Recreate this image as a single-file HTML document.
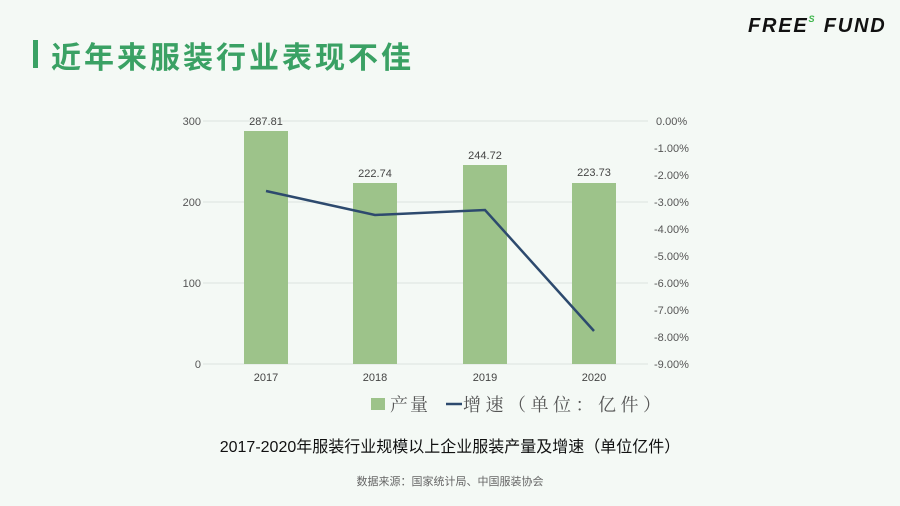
<!DOCTYPE html>
<html><head><meta charset="utf-8"><style>
body{margin:0;width:900px;height:506px;background:#f4f9f5;overflow:hidden;font-family:"Liberation Sans","Noto Sans CJK SC",sans-serif;position:relative}
.t{position:absolute;white-space:nowrap}
</style></head><body>
<div class="t" style="left:33px;top:40px;width:5px;height:28px;background:#3aa164"></div>
<div class="t" style="left:51px;top:33px;font-size:30px;font-weight:bold;color:#3aa164;letter-spacing:3px">近年来服装行业表现不佳</div>
<div class="t" style="left:748px;top:14px;font-size:20px;font-weight:bold;font-style:italic;color:#111;letter-spacing:1.8px">FREE<sup style="font-size:9px;color:#3cb54a;vertical-align:10px">S</sup> FUND</div>
<svg width="900" height="506" style="position:absolute;left:0;top:0" font-family="Liberation Sans,Noto Sans CJK SC,sans-serif">
<g stroke="#dde3df" stroke-width="1">
<line x1="203" y1="121" x2="648" y2="121"/><line x1="203" y1="202" x2="648" y2="202"/><line x1="203" y1="283" x2="648" y2="283"/><line x1="203" y1="364" x2="648" y2="364"/>
</g>
<g fill="#9dc38a">
<rect x="244" y="131" width="44" height="233"/><rect x="353" y="183" width="44" height="181"/><rect x="463" y="165" width="44" height="199"/><rect x="572" y="183" width="44" height="181"/>
</g>
<polyline points="266,191 375,215 485,210 594,331" fill="none" stroke="#2d4a6e" stroke-width="2.5"/>
<g font-size="11" fill="#555" text-anchor="end">
<text x="201" y="125">300</text><text x="201" y="206">200</text><text x="201" y="287">100</text><text x="201" y="368">0</text>
</g>
<g font-size="11" fill="#555">
<text x="656" y="125">0.00%</text><text x="654" y="152">-1.00%</text><text x="654" y="179">-2.00%</text><text x="654" y="206">-3.00%</text><text x="654" y="233">-4.00%</text><text x="654" y="260">-5.00%</text><text x="654" y="287">-6.00%</text><text x="654" y="314">-7.00%</text><text x="654" y="341">-8.00%</text><text x="654" y="368">-9.00%</text>
</g>
<g font-size="11" fill="#444" text-anchor="middle">
<text x="266" y="125">287.81</text><text x="375" y="177">222.74</text><text x="485" y="159">244.72</text><text x="594" y="176">223.73</text>
<text x="266" y="381">2017</text><text x="375" y="381">2018</text><text x="485" y="381">2019</text><text x="594" y="381">2020</text>
</g>
<rect x="371" y="398" width="14" height="12" fill="#9dc38a"/>
<text x="390" y="411" font-size="18" fill="#555" font-family="Noto Serif CJK SC,serif" letter-spacing="2">产量</text>
<line x1="446" y1="404" x2="462" y2="404" stroke="#2d4a6e" stroke-width="2.5"/>
<text x="463" y="411" font-size="18" fill="#555" font-family="Noto Serif CJK SC,serif" letter-spacing="4.5">增速（单位：亿件）</text>
<text x="450" y="452" font-size="16" fill="#111" text-anchor="middle">2017-2020年服装行业规模以上企业服装产量及增速（单位亿件）</text>
<text x="450" y="485" font-size="11" fill="#666" text-anchor="middle">数据来源：国家统计局、中国服装协会</text>
</svg>
</body></html>
